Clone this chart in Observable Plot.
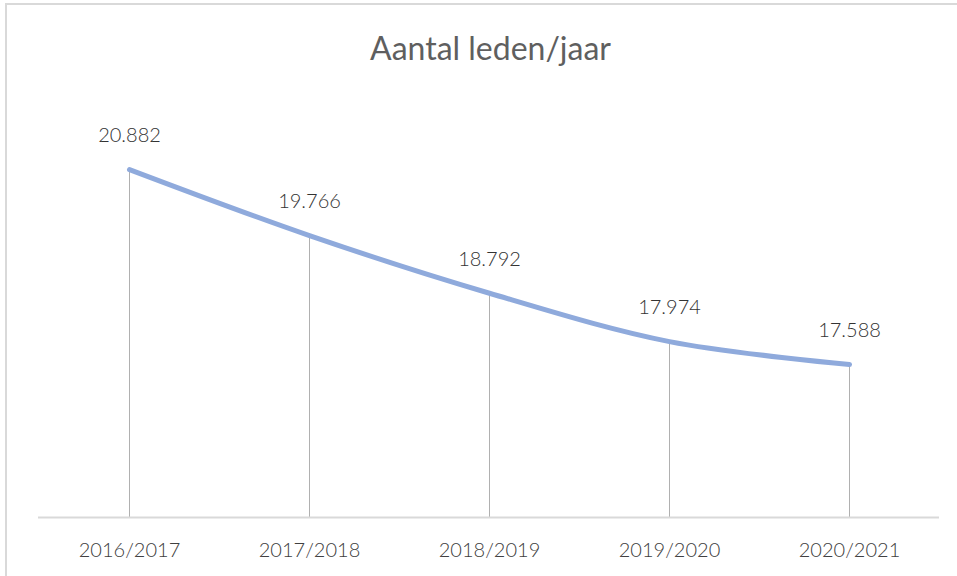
<!DOCTYPE html>
<html>
<head>
<meta charset="utf-8">
<script src="https://cdn.jsdelivr.net/npm/d3@7"></script>
<script src="https://cdn.jsdelivr.net/npm/@observablehq/plot@0.6"></script>
<style>
  html, body { margin: 0; padding: 0; background: #fff; overflow: hidden; width: 957px; height: 576px; }
  #wrap { position: relative; width: 957px; height: 576px; font-family: Lato, "Open Sans", sans-serif; }
  #frame { position: absolute; left: 5px; top: 3px; width: 1000px; height: 1000px; border: 2px solid #d9d9d9; box-sizing: border-box; }
  #title { position: absolute; left: 12px; top: 29px; width: 957px; text-align: center; font-size: 32px; font-weight: 400; color: #5f5f5f; font-family: Lato, sans-serif; line-height: 38px; }
  #chart { position: absolute; left: 0; top: 0; }
</style>
</head>
<body>
<div id="wrap">
  <div id="frame"></div>
  <div id="chart"></div>
  <div id="title">Aantal leden/jaar</div>
</div>
<script>
const seasons = ["2016/2017", "2017/2018", "2018/2019", "2019/2020", "2020/2021"];
const members = [20.882, 19.766, 18.792, 17.974, 17.588];
const labels = ["20.882", "19.766", "18.792", "17.974", "17.588"];

const data = seasons.map((s, i) => ({season: s, value: members[i], label: labels[i]}));

const chart = Plot.plot({
  width: 957,
  height: 576,
  marginLeft: 38,
  marginRight: 18,
  marginTop: 103,
  marginBottom: 59,
  style: {fontFamily: "Lato, sans-serif", background: "transparent", color: "#595959"},
  x: {type: "point", domain: seasons, padding: 0.5, label: null},
  y: {domain: [15, 22], axis: null},
  marks: [
    Plot.ruleX(data, {x: "season", y1: 15, y2: "value", stroke: "#b0b0b0", strokeWidth: 1}),
    Plot.ruleY([15], {stroke: "#d9d9d9", strokeWidth: 2}),
    Plot.line(data, {x: "season", y: "value", curve: "catmull-rom", stroke: "#8faadc", strokeWidth: 5, strokeLinecap: "round"}),
    Plot.text(data, {x: "season", y: "value", text: "label", dy: -34, fontSize: 20, fontWeight: 300, fill: "#333333"}),
    Plot.axisX({tickSize: 0, tickPadding: 25, fontSize: 20, fontWeight: 300, fill: "#404040"})
  ]
});
document.getElementById("chart").appendChild(chart);
</script>
</body>
</html>
